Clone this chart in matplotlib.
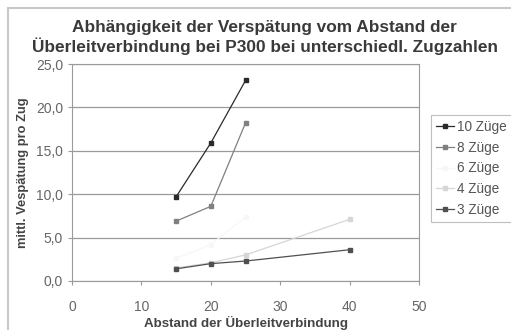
import matplotlib.pyplot as plt
from matplotlib.patches import Rectangle

plt.rcParams['font.family'] = ['Liberation Sans', 'DejaVu Sans']

abstand_10 = [15, 20, 25]
zuege_10 = [9.7, 15.9, 23.1]
abstand_8 = [15, 20, 25]
zuege_8 = [6.9, 8.6, 18.2]
abstand_6 = [15, 20, 25]
zuege_6 = [2.6, 4.2, 7.4]
abstand_4 = [15, 20, 25, 40]
zuege_4 = [1.5, 2.1, 3.0, 7.1]
abstand_3 = [15, 20, 25, 40]
zuege_3 = [1.4, 2.0, 2.3, 3.6]

series = [
    ('10 Züge', abstand_10, zuege_10, '#2a2a2a'),
    ('8 Züge', abstand_8, zuege_8, '#808080'),
    ('6 Züge', abstand_6, zuege_6, '#f7f7f7'),
    ('4 Züge', abstand_4, zuege_4, '#d6d6d6'),
    ('3 Züge', abstand_3, zuege_3, '#505050'),
]

fig = plt.figure(figsize=(5.11, 3.30), dpi=100)
ax = fig.add_axes([72 / 511, 1 - 281 / 330, 347 / 511, 217 / 330])

# outer chart frame (only left/top edges are visible)
fig.patches.append(Rectangle((8 / 511, -0.1), 1.2, 1 - 8 / 330 + 0.1,
                             transform=fig.transFigure, fill=False,
                             edgecolor='#c8c8c8', linewidth=1.5))

for label, x, y, color in series:
    ax.plot(x, y, color=color, marker='s', markersize=2.2,
            linewidth=0.9, label=label)

ax.set_xlim(0, 50)
ax.set_ylim(0, 25)
ax.set_xticks(range(0, 51, 10))
ax.set_yticks([0, 5, 10, 15, 20, 25])
ax.set_yticklabels(['0,0', '5,0', '10,0', '15,0', '20,0', '25,0'])
ax.yaxis.grid(True, color='#9a9a9a', linewidth=0.9)
ax.set_axisbelow(True)
for side in ['left', 'bottom', 'right', 'top']:
    ax.spines[side].set_color('#9a9a9a')
ax.tick_params(colors='#9a9a9a', labelcolor='#666666', labelsize=10,
               length=3, width=0.8)
ax.tick_params(axis='x', pad=11)

ax.set_xlabel('Abstand der Überleitverbindung', fontsize=9.6,
              fontweight='bold', color='#444444', labelpad=1)
ax.set_ylabel('mittl. Vespätung pro Zug', fontsize=9.3,
              fontweight='bold', color='#444444', labelpad=5)

fig.text(0.518, 0.94, 'Abhängigkeit der Verspätung vom Abstand der\n'
         'Überleitverbindung bei P300 bei unterschiedl. Zugzahlen',
         ha='center', va='top', fontsize=12.4, fontweight='bold',
         color='#3a3a3a', linespacing=1.2)

leg = ax.legend(loc='upper left', bbox_to_anchor=(1.035, 0.765),
                frameon=True, fancybox=False, fontsize=9.8,
                handlelength=1.3, handletextpad=0.25, labelspacing=0.5,
                borderpad=0.35, borderaxespad=0)
leg.get_frame().set_edgecolor('#b0b0b0')
leg.get_frame().set_linewidth(0.8)
for t in leg.get_texts():
    t.set_color('#555555')

fig.savefig('out.png', dpi=100)
